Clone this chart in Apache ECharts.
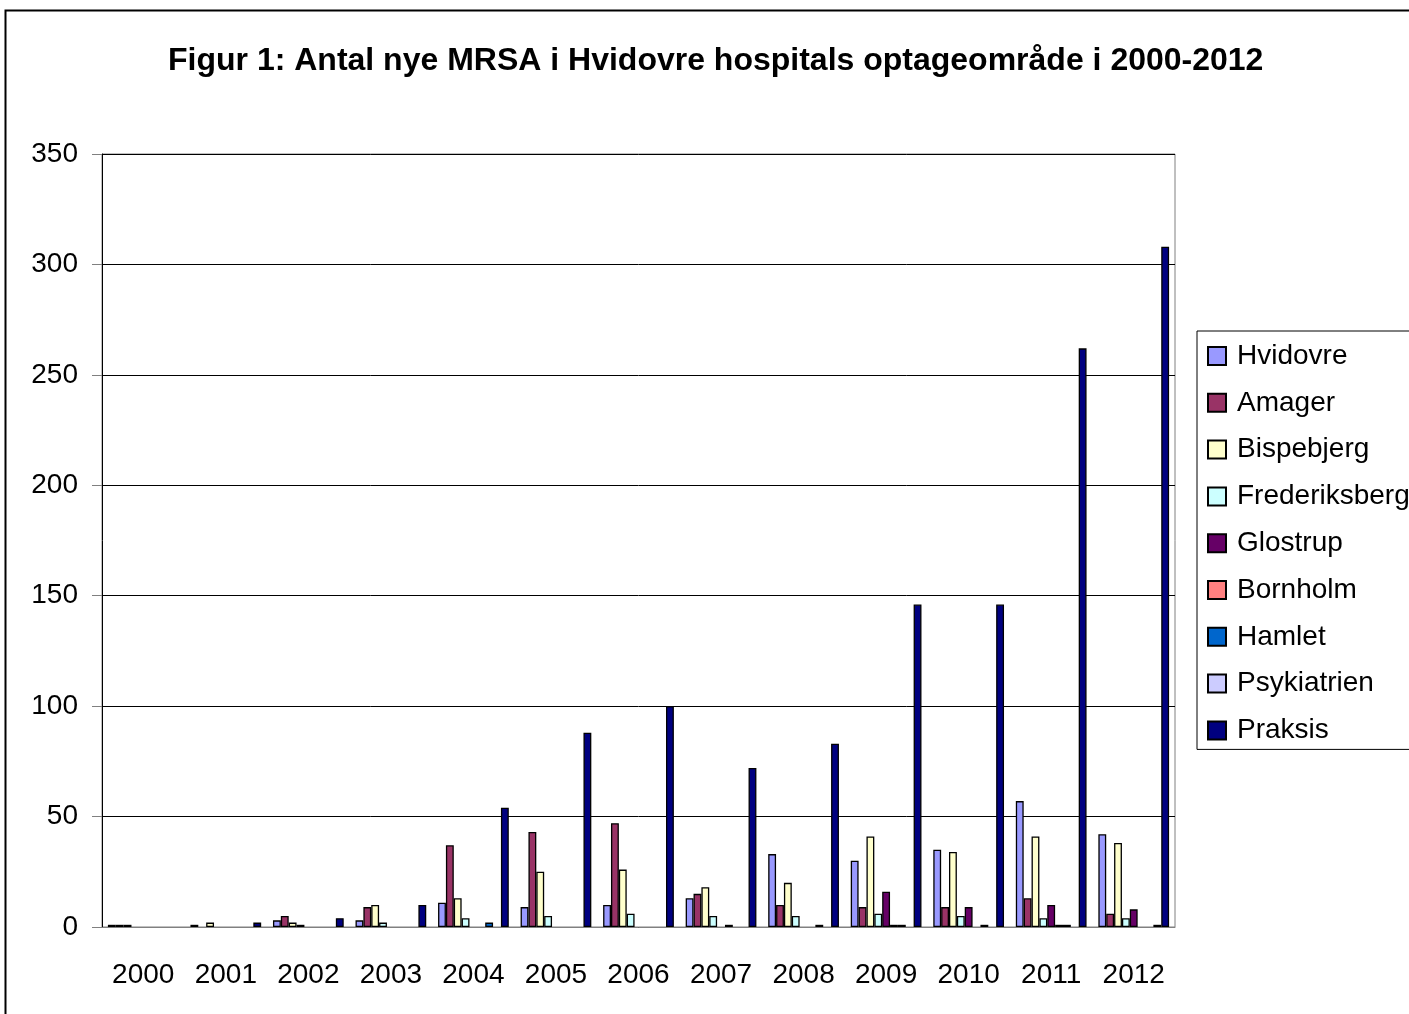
<!DOCTYPE html>
<html>
<head>
<meta charset="utf-8">
<title>Figur 1</title>
<script src="https://cdn.jsdelivr.net/npm/echarts@6/dist/echarts.min.js"></script>
<style>
  html, body { margin: 0; padding: 0; background: #fff; }
  #chart { width: 1409px; height: 1014px; }
</style>
</head>
<body>
<div id="chart"></div>
<script>
// years on the x axis
const years = ['2000', '2001', '2002', '2003', '2004', '2005', '2006',
  '2007', '2008', '2009', '2010', '2011', '2012'];

// values per hospital (0 = no bar)
const hvidovre      = [1, 1, 3, 3, 11, 9, 10, 13, 33, 30, 35, 57, 42];
const amager        = [1, 0, 5, 9, 37, 43, 47, 15, 10, 9, 9, 13, 6];
const bispebjerg    = [1, 2, 2, 10, 13, 25, 26, 18, 20, 41, 34, 41, 38];
const frederiksberg = [0, 0, 1, 2, 4, 5, 6, 5, 5, 6, 5, 4, 4];
const glostrup      = [0, 0, 0, 0, 0, 0, 0, 0, 0, 16, 9, 10, 8];
const bornholm      = [0, 0, 0, 0, 0, 0, 0, 1, 0, 1, 0, 1, 0];
const hamlet        = [0, 0, 0, 0, 2, 0, 0, 0, 1, 1, 1, 1, 0];
const psykiatrien   = [0, 0, 0, 0, 0, 0, 0, 0, 0, 0, 0, 0, 1];
const praksis       = [0, 2, 4, 10, 54, 88, 100, 72, 83, 146, 146, 262, 308];

const yTicks = [0, 50, 100, 150, 200, 250, 300, 350];

const seriesDefs = [
  { name: 'Hvidovre', data: hvidovre, color: '#9999FF' },
  { name: 'Amager', data: amager, color: '#993366' },
  { name: 'Bispebjerg', data: bispebjerg, color: '#FFFFCC' },
  { name: 'Frederiksberg', data: frederiksberg, color: '#CCFFFF' },
  { name: 'Glostrup', data: glostrup, color: '#660066' },
  { name: 'Bornholm', data: bornholm, color: '#FF8080' },
  { name: 'Hamlet', data: hamlet, color: '#0066CC' },
  { name: 'Psykiatrien', data: psykiatrien, color: '#CCCCFF' },
  { name: 'Praksis', data: praksis, color: '#000080' }
];

const font = "'Liberation Sans', Arial, sans-serif";

const chart = echarts.init(document.getElementById('chart'));

const option = {
  animation: false,
  backgroundColor: '#fff',
  textStyle: { fontFamily: font },
  // outer chart frame (cut off on right and bottom like the original)
  graphic: [{
    type: 'rect',
    silent: true,
    shape: { x: 5.5, y: 10.5, width: 1500, height: 1100 },
    style: { fill: 'none', stroke: '#000', lineWidth: 2 }
  }],
  title: {
    text: 'Figur 1: Antal nye MRSA i Hvidovre hospitals optageområde i 2000-2012',
    left: 168,
    top: 45,
    padding: 0,
    textStyle: { fontFamily: font, fontSize: 32, fontWeight: 'bold', color: '#000' }
  },
  legend: {
    orient: 'vertical',
    left: 1197,
    top: 331,
    padding: [11, 10, 5, 10],
    itemWidth: 18,
    itemHeight: 18,
    itemGap: 18.8,
    borderColor: '#000',
    borderWidth: 1,
    icon: 'rect',
    selectedMode: false,
    textStyle: { fontFamily: font, fontSize: 28, color: '#000', lineHeight: 28, padding: [0, 0, 0, 6] }
  },
  grid: {
    left: 102,
    top: 154,
    right: 234,
    bottom: 87,
    show: true,
    borderColor: '#808080',
    borderWidth: 1,
    containLabel: false
  },
  xAxis: {
    type: 'category',
    data: years,
    axisLine: { lineStyle: { color: '#808080', width: 1 } },
    axisTick: { length: 10, lineStyle: { color: '#808080' } },
    axisLabel: { color: '#000', fontSize: 28, fontFamily: font, margin: 34, interval: 0 },
    splitLine: { show: false }
  },
  yAxis: {
    type: 'value',
    min: yTicks[0],
    max: yTicks[yTicks.length - 1],
    interval: 50,
    axisLine: { show: true, lineStyle: { color: '#000', width: 1 } },
    axisTick: { show: true, length: 10, lineStyle: { color: '#808080' } },
    axisLabel: { color: '#000', fontSize: 28, fontFamily: font, margin: 24 },
    splitLine: { show: true, lineStyle: { color: '#000', width: 1 } }
  },
  series: seriesDefs.map(s => ({
    name: s.name,
    type: 'bar',
    barGap: '0%',
    barCategoryGap: '14.3%',
    data: s.data.map(v => (v === 0 ? '-' : v)),
    itemStyle: { color: s.color, borderColor: '#000', borderWidth: 1.3 },
    emphasis: { disabled: true }
  }))
};

chart.setOption(option);
</script>
</body>
</html>
